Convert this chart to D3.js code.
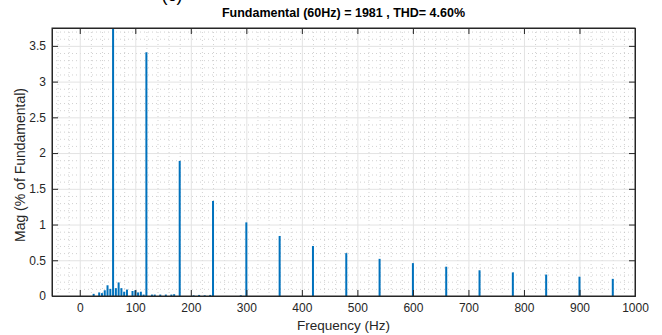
<!DOCTYPE html>
<html>
<head>
<meta charset="utf-8">
<script src="https://cdn.jsdelivr.net/npm/d3@7"></script>
<style>
  body { margin: 0; background: #fff; }
  svg { font-family: "Liberation Sans", Arial, sans-serif; }
</style>
</head>
<body>
<svg id="svg0"></svg>
<script>
// harmonic components (% of fundamental), fundamental is clipped by the axis
let harmonicFreqs = [60, 120, 180, 240, 300, 360, 420, 480, 540, 600, 660, 720, 780, 840, 900, 960];
let harmonicMags = [100, 3.41, 1.89, 1.33, 1.03, 0.84, 0.70, 0.60, 0.52, 0.46, 0.41, 0.36, 0.33, 0.30, 0.27, 0.24];

// small non-harmonic components
let otherFreqs = [25, 35, 40, 45, 50, 55, 65, 70, 75, 80, 85, 95, 100, 105, 110, 115, 130, 135, 145, 155, 165, 170, 205, 215, 225, 235, 290];
let otherMags = [0.03, 0.05, 0.04, 0.08, 0.15, 0.10, 0.11, 0.19, 0.11, 0.06, 0.09, 0.07, 0.08, 0.05, 0.06, 0.02, 0.02, 0.02, 0.02, 0.02, 0.02, 0.025, 0.01, 0.015, 0.01, 0.015, 0.01];

let xTicks = [0, 100, 200, 300, 400, 500, 600, 700, 800, 900, 1000];
let yTicks = [0, 0.5, 1, 1.5, 2, 2.5, 3, 3.5];

let totalW = 662, totalH = 335;
let margin = {top: 28, right: 27, bottom: 39, left: 52};
let width = totalW - margin.left - margin.right;
let height = totalH - margin.top - margin.bottom;

let svg = d3.select('#svg0').attr('width', totalW).attr('height', totalH);

let xScale = d3.scaleLinear().domain([-50, 1000]).range([0, width]);
let yScale = d3.scaleLinear().domain([0, 3.75]).range([height, 0]);

svg.append('defs').append('clipPath').attr('id', 'plotClip')
    .append('rect').attr('width', width).attr('height', height);

let g = svg.append('g').attr('transform', 'translate(' + margin.left + ', ' + margin.top + ')');

// minor gridlines (dotted)
let xMinor = d3.range(-40, 1001, 20).filter(v => v % 100 !== 0);
let yMinor = d3.range(1, 38).map(v => v / 10).filter(v => Math.abs(v * 2 - Math.round(v * 2)) > 1e-6);

g.append('g').attr('class', 'minor')
    .call(d3.axisBottom(xScale).tickValues(xMinor).tickSize(height).tickFormat(''))
    .call(a => a.select('.domain').remove());
g.append('g').attr('class', 'minor')
    .call(d3.axisLeft(yScale).tickValues(yMinor).tickSize(-width).tickFormat(''))
    .call(a => a.select('.domain').remove());
g.selectAll('.minor line').style('stroke', '#bdbdbd').style('stroke-width', '1px')
    .style('stroke-dasharray', '1,3').style('stroke-opacity', 0.7);

// major gridlines
g.append('g').attr('class', 'grid')
    .call(d3.axisBottom(xScale).tickValues(xTicks).tickSize(height).tickFormat(''))
    .call(a => a.select('.domain').remove());
g.append('g').attr('class', 'grid')
    .call(d3.axisLeft(yScale).tickValues(yTicks).tickSize(-width).tickFormat(''))
    .call(a => a.select('.domain').remove());
g.selectAll('.grid line').style('stroke', '#e3e3e3').style('stroke-width', '1px');

// data
let bars = g.append('g').attr('clip-path', 'url(#plotClip)');
let otherData = otherFreqs.map((f, i) => [f, otherMags[i]]);
let harmData = harmonicFreqs.map((f, i) => [f, harmonicMags[i]]);

bars.selectAll('.other').data(otherData).enter().append('rect')
    .attr('class', 'other')
    .attr('x', d => xScale(d[0]) - 1)
    .attr('y', d => yScale(d[1]))
    .attr('width', 2)
    .attr('height', d => yScale(0) - yScale(d[1]))
    .style('fill', '#0072BD');

bars.selectAll('.harm').data(harmData).enter().append('rect')
    .attr('class', 'harm')
    .attr('x', d => xScale(d[0]) - 1)
    .attr('y', d => yScale(d[1]))
    .attr('width', 2)
    .attr('height', d => yScale(0) - yScale(d[1]))
    .style('fill', '#0072BD');

// axes, ticks inside, on all four sides
let axisColor = '#262626';
let xAxis = g.append('g').attr('transform', 'translate(0, ' + height + ')')
    .call(d3.axisBottom(xScale).tickValues(xTicks).tickSize(-6).tickPadding(7).tickFormat(d3.format('d')));
let xTop = g.append('g')
    .call(d3.axisTop(xScale).tickValues(xTicks).tickSize(-6).tickFormat(''));
let yAxis = g.append('g')
    .call(d3.axisLeft(yScale).tickValues(yTicks).tickSize(-6).tickPadding(6).tickFormat(d => d));
let yRight = g.append('g').attr('transform', 'translate(' + width + ', 0)')
    .call(d3.axisRight(yScale).tickValues(yTicks).tickSize(-6).tickFormat(''));

[xAxis, xTop, yAxis, yRight].forEach(a => {
    a.select('.domain').style('stroke', axisColor).style('stroke-width', '1px');
    a.selectAll('line').style('stroke', axisColor);
    a.selectAll('text').style('fill', axisColor).style('font-size', '12px')
        .style('font-family', '"Liberation Sans", Arial, sans-serif');
});
// box closing segments
g.append('rect').attr('width', width).attr('height', height)
    .style('fill', 'none').style('stroke', axisColor).style('stroke-width', '1px');

// axis labels
svg.append('text')
    .attr('x', margin.left + width / 2)
    .attr('y', totalH - 5)
    .text('Frequency (Hz)')
    .style('font-size', '13.5px').style('fill', axisColor).style('text-anchor', 'middle');

svg.append('text')
    .attr('transform', 'translate(25, 165) rotate(-90)')
    .text('Mag (% of Fundamental)')
    .style('font-size', '14px').style('fill', axisColor).style('text-anchor', 'middle');

// title
svg.append('text')
    .attr('x', margin.left + width / 2)
    .attr('y', 17)
    .text('Fundamental (60Hz) = 1981 , THD= 4.60%')
    .style('font-size', '12.5px').style('font-weight', 'bold').style('fill', '#000')
    .style('text-anchor', 'middle');

// cut-off panel label at the very top
svg.append('text')
    .attr('x', 172)
    .attr('y', 1)
    .text('(c)')
    .style('font-size', '18px').style('fill', '#000').style('text-anchor', 'middle');
</script>
</body>
</html>
